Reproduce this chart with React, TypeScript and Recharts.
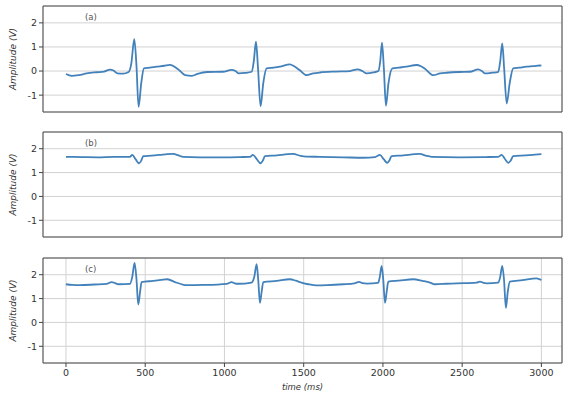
import React from 'react';
import { CartesianGrid, Line, LineChart, ReferenceArea, XAxis, YAxis } from 'recharts';

// panel (a)
const timeA = [0, 36, 80, 130, 193, 240, 278, 300, 325, 360, 395, 412, 431, 445, 458, 475, 492, 530, 572, 620, 656, 690, 720, 752, 795, 830, 890, 990, 1045, 1070, 1090, 1130, 1172, 1185, 1199, 1212, 1228, 1245, 1266, 1310, 1350, 1413, 1440, 1476, 1518, 1560, 1602, 1700, 1792, 1840, 1870, 1897, 1940, 1971, 1983, 1994, 2006, 2019, 2035, 2060, 2100, 2149, 2213, 2240, 2265, 2318, 2360, 2402, 2480, 2549, 2601, 2625, 2644, 2690, 2728, 2740, 2753, 2765, 2781, 2800, 2822, 2860, 2906, 2950, 2990, 3000];
const ampA = [-0.12, -0.2, -0.17, -0.1, -0.05, -0.02, 0.06, 0.02, -0.1, -0.11, -0.04, 0.3, 1.32, 0.2, -1.49, -0.5, 0.11, 0.14, 0.18, 0.22, 0.26, 0.16, 0.0, -0.17, -0.2, -0.12, -0.04, -0.03, 0.05, 0.0, -0.1, -0.08, -0.03, 0.4, 1.22, 0.1, -1.46, -0.5, 0.11, 0.14, 0.18, 0.28, 0.2, 0.03, -0.17, -0.1, -0.06, -0.02, 0.0, 0.07, 0.0, -0.1, -0.06, 0.0, 0.4, 1.18, 0.1, -1.44, -0.5, 0.11, 0.14, 0.18, 0.25, 0.2, 0.1, -0.17, -0.1, -0.07, -0.04, -0.03, 0.07, 0.0, -0.1, -0.07, -0.03, 0.4, 1.15, 0.1, -1.35, -0.5, 0.11, 0.14, 0.18, 0.2, 0.23, 0.22];

// panel (b)
const timeB = [0, 100, 200, 300, 404, 418, 440, 461, 475, 488, 540, 593, 640, 677, 710, 740, 845, 1000, 1100, 1161, 1180, 1205, 1228, 1242, 1256, 1330, 1400, 1434, 1480, 1518, 1602, 1750, 1876, 1950, 1981, 2005, 2027, 2040, 2055, 2130, 2200, 2233, 2270, 2306, 2486, 2650, 2728, 2749, 2770, 2791, 2806, 2822, 2900, 2960, 3000];
const ampB = [1.66, 1.65, 1.64, 1.66, 1.66, 1.74, 1.55, 1.39, 1.5, 1.69, 1.71, 1.74, 1.77, 1.78, 1.72, 1.66, 1.64, 1.64, 1.65, 1.66, 1.74, 1.55, 1.39, 1.5, 1.69, 1.72, 1.77, 1.78, 1.7, 1.67, 1.66, 1.64, 1.62, 1.65, 1.74, 1.56, 1.41, 1.5, 1.69, 1.72, 1.77, 1.78, 1.71, 1.66, 1.64, 1.65, 1.66, 1.74, 1.57, 1.41, 1.5, 1.69, 1.72, 1.75, 1.77];

// panel (c)
const timeC = [0, 40, 88, 180, 257, 288, 310, 330, 404, 418, 433, 445, 456, 468, 477, 551, 600, 640, 688, 730, 761, 866, 1014, 1045, 1065, 1087, 1171, 1188, 1203, 1213, 1224, 1235, 1245, 1329, 1413, 1450, 1476, 1529, 1580, 1650, 1750, 1820, 1850, 1870, 1900, 1970, 1980, 1992, 2002, 2013, 2024, 2034, 2100, 2192, 2250, 2297, 2328, 2400, 2465, 2591, 2612, 2635, 2654, 2728, 2740, 2753, 2764, 2776, 2788, 2801, 2880, 2969, 3000];
const ampC = [1.6, 1.57, 1.56, 1.59, 1.62, 1.69, 1.65, 1.6, 1.62, 1.9, 2.49, 1.8, 0.75, 1.3, 1.69, 1.74, 1.78, 1.81, 1.69, 1.6, 1.56, 1.57, 1.62, 1.69, 1.64, 1.62, 1.67, 1.9, 2.44, 1.8, 0.82, 1.3, 1.69, 1.74, 1.81, 1.75, 1.69, 1.6, 1.55, 1.56, 1.6, 1.64, 1.7, 1.65, 1.63, 1.66, 1.9, 2.37, 1.8, 0.82, 1.3, 1.71, 1.75, 1.81, 1.74, 1.67, 1.6, 1.62, 1.64, 1.67, 1.71, 1.66, 1.64, 1.67, 1.9, 2.37, 1.8, 0.61, 1.3, 1.71, 1.77, 1.85, 1.78];

const xTicks = [0, 500, 1000, 1500, 2000, 2500, 3000];
const yTicks = [-1, 0, 1, 2];
const panelLabels = ['(a)', '(b)', '(c)'];

const X_DOMAIN: [number, number] = [-145, 3130];
const Y_DOMAIN: [number, number] = [-1.7, 2.7];
const FONT = 'DejaVu Sans';

const zip = (t: number[], v: number[]) => t.map((time, i) => ({ time, amp: v[i] }));

const YLabel = (props: any) => {
    const vb = props.viewBox;
    const cy = vb.y + vb.height / 2;
    return (
        <text x={13} y={cy} transform={`rotate(-90, 13, ${cy})`} textAnchor='middle'
              dominantBaseline='central' fontSize={9} fontStyle='italic' fill='#333' fontFamily={FONT}>
            Amplitude (V)
        </text>
    );
};

interface IPanel {
    data: { time: number, amp: number }[]
    top: number
    height: number
    last?: boolean
    label: string
}

function Panel({data, top, height, last, label}: IPanel) {
    return (
        <div style={{position: 'absolute', left: 0, top}}>
            <LineChart width={563} height={height} data={data}
                       margin={{top: 6, right: 1, left: 0, bottom: 0}}>
                <CartesianGrid stroke='#d2d2d2' strokeWidth={1}/>
                <XAxis dataKey='time' type='number' domain={X_DOMAIN} ticks={xTicks}
                       allowDataOverflow height={last ? 33 : 8} tickSize={4} tickMargin={2}
                       axisLine={false} stroke='#444'
                       tick={last ? {fontSize: 9.5, fill: '#333', fontFamily: FONT} : false}
                       label={last ? {value: 'time (ms)', position: 'insideBottom', offset: 6,
                           fontSize: 8.5, fontStyle: 'italic', fill: '#333', fontFamily: FONT} : undefined}/>
                <YAxis type='number' domain={Y_DOMAIN} ticks={yTicks} allowDataOverflow width={43}
                       tickSize={4} tickMargin={2} axisLine={false} stroke='#444'
                       tick={{fontSize: 9.5, fill: '#333', fontFamily: FONT}}
                       label={<YLabel/>}/>
                <ReferenceArea x1={X_DOMAIN[0]} x2={X_DOMAIN[1]} y1={Y_DOMAIN[0]} y2={Y_DOMAIN[1]}
                               fill='none' stroke='#4a4a4a' strokeWidth={1} ifOverflow='visible'/>
                <Line type='monotone' dataKey='amp' stroke='#4281ba' strokeWidth={1.8} dot={false}
                      isAnimationActive={false}/>
            </LineChart>
            <span style={{position: 'absolute', left: 85, top: 12, fontSize: 8.5, color: '#555',
                fontFamily: FONT}}>{label}</span>
        </div>
    );
}

export default function App() {
    return (
        <div style={{position: 'absolute', left: 0, top: 0, width: 563, height: 396, background: '#fff'}}>
            <Panel data={zip(timeA, ampA)} top={0} height={120} label={panelLabels[0]}/>
            <Panel data={zip(timeB, ampB)} top={126} height={119} label={panelLabels[1]}/>
            <Panel data={zip(timeC, ampC)} top={252} height={144} last label={panelLabels[2]}/>
        </div>
    );
}
